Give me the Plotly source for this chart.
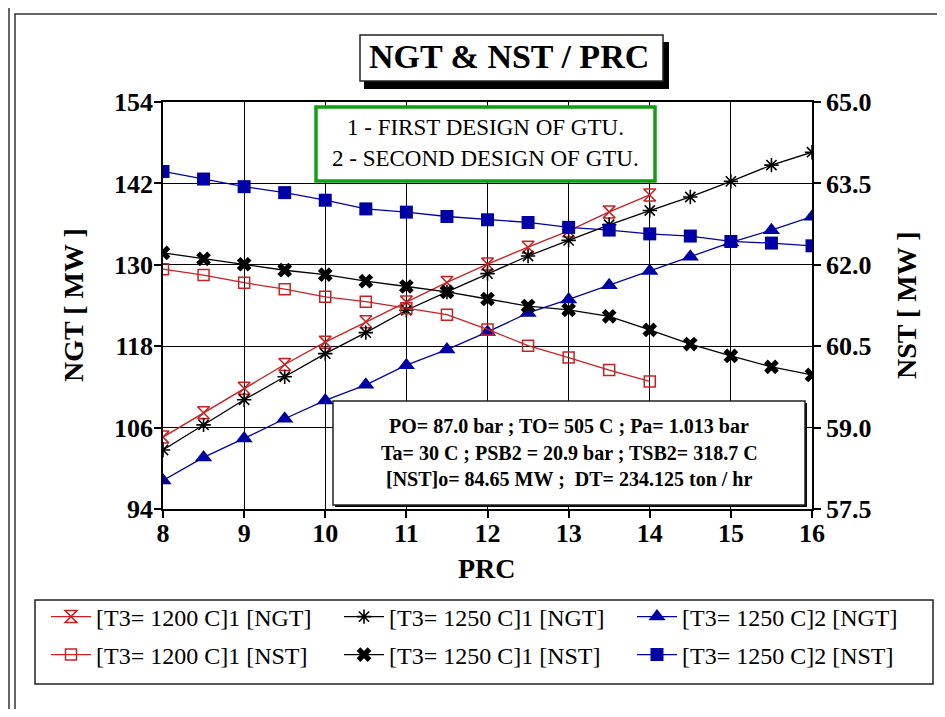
import plotly.graph_objects as go

# ---------------- data ----------------
prc_1200 = [8, 8.5, 9, 9.5, 10, 10.5, 11, 11.5, 12, 12.5, 13, 13.5, 14]
prc_1250 = [8, 8.5, 9, 9.5, 10, 10.5, 11, 11.5, 12, 12.5, 13, 13.5, 14, 14.5, 15, 15.5, 16]

ngt_1200_1 = [104.6, 108.2, 111.8, 115.3, 118.6, 121.6, 124.5, 127.4, 130.1, 132.6, 135.0, 137.8, 140.3]
nst_1200_1 = [61.92, 61.81, 61.67, 61.55, 61.41, 61.32, 61.20, 61.08, 60.81, 60.51, 60.29, 60.06, 59.85]

ngt_1250_1 = [102.7, 106.4, 110.1, 113.5, 116.9, 120.0, 123.3, 126.0, 128.7, 131.3, 133.6, 135.9,
              138.0, 140.0, 142.3, 144.7, 146.6]
nst_1250_1 = [62.22, 62.11, 62.01, 61.90, 61.82, 61.70, 61.60, 61.50, 61.37, 61.24, 61.17, 61.05,
              60.80, 60.54, 60.32, 60.12, 59.97]

ngt_1250_2 = [98.2, 101.6, 104.4, 107.3, 110.0, 112.3, 115.2, 117.5, 120.1, 122.9, 124.9, 127.0,
              129.1, 131.2, 133.3, 135.1, 137.1]
nst_1250_2 = [63.72, 63.58, 63.44, 63.33, 63.19, 63.03, 62.97, 62.89, 62.83, 62.78, 62.69, 62.64,
              62.57, 62.53, 62.43, 62.40, 62.35]

names_ngt = ["[T3= 1200 C]1 [NGT]", "[T3= 1250 C]1 [NGT]", "[T3= 1250 C]2 [NGT]"]
names_nst = ["[T3= 1200 C]1 [NST]", "[T3= 1250 C]1 [NST]", "[T3= 1250 C]2 [NST]"]

title_text = "NGT & NST / PRC"
design_lines = ["1 - FIRST DESIGN OF GTU.", "2 - SECOND DESIGN OF GTU."]
info_lines = ["PO= 87.0 bar ; TO= 505 C ; Pa= 1.013 bar",
              "Ta= 30 C ; PSB2 = 20.9 bar ; TSB2= 318.7 C",
              "[NST]o= 84.65 MW ;  DT= 234.125 ton / hr"]

# ---------------- layout helpers ----------------
OFF = 8                      # page body margin
W, H = 945 - 2 * OFF, 717 - 2 * OFF
L, R, T, B = 163, 812, 102, 509   # plot area in page pixels
FONT = "Liberation Serif"
RED, BLK, BLU = "#cc2020", "#000000", "#0000a8"


def px(x):
    return (x - L) / (R - L)


def py(y):
    return (B - y) / (B - T)


fig = go.Figure()

def add(x, y, name, color, symbol, size, axis, legend, mlw=1.2):
    fig.add_trace(go.Scatter(
        x=x, y=y, name=name, mode="lines+markers", yaxis=axis, legend=legend,
        line=dict(color=color, width=1.3),
        marker=dict(symbol=symbol, size=size, color=color, line=dict(color=color, width=mlw)),
    ))

add(prc_1200, ngt_1200_1, names_ngt[0], RED, "hourglass-open", 12, "y", "legend", 1.5)
add(prc_1250, ngt_1250_1, names_ngt[1], BLK, "asterisk-open", 12, "y", "legend2", 1.6)
add(prc_1250, ngt_1250_2, names_ngt[2], BLU, "triangle-up", 15, "y", "legend3", 0)
add(prc_1200, nst_1200_1, names_nst[0], RED, "square-open", 11, "y2", "legend4", 1.5)
add(prc_1250, nst_1250_1, names_nst[1], BLK, "x", 13, "y2", "legend5", 0)
add(prc_1250, nst_1250_2, names_nst[2], BLU, "square", 13, "y2", "legend6", 0)

tickfont = dict(family=FONT, size=26, color="black", weight="bold")
axis_common = dict(showline=True, linecolor="black", linewidth=1.5, ticks="outside",
                   ticklen=7, tickwidth=1.5, tickcolor="black", tickfont=tickfont,
                   gridcolor="black", gridwidth=1.3, zeroline=False)

shapes = []
# outer double frame
shapes.append(dict(type="rect", xref="paper", yref="paper", x0=px(9), x1=px(980),
                   y0=py(740), y1=py(7), line=dict(color="#333", width=1.5), layer="below"))
shapes.append(dict(type="rect", xref="paper", yref="paper", x0=px(15), x1=px(980),
                   y0=py(714), y1=py(14), line=dict(color="#333", width=1.5), layer="below"))
# legend box
shapes.append(dict(type="rect", xref="paper", yref="paper", x0=px(35), x1=px(933),
                   y0=py(684), y1=py(600), line=dict(color="#222", width=1.5), layer="below"))
# title box with shadow
shapes.append(dict(type="rect", xref="paper", yref="paper", x0=px(364), x1=px(669),
                   y0=py(89), y1=py(42), fillcolor="black", line=dict(width=0), layer="above"))
shapes.append(dict(type="rect", xref="paper", yref="paper", x0=px(360), x1=px(663),
                   y0=py(81), y1=py(35), fillcolor="white", line=dict(color="#222", width=1.5),
                   layer="above"))
# design box (green)
shapes.append(dict(type="rect", xref="paper", yref="paper", x0=px(316), x1=px(655),
                   y0=py(181), y1=py(107), fillcolor="white", line=dict(color="#10a010", width=3.5),
                   layer="above"))
# info box
shapes.append(dict(type="rect", xref="paper", yref="paper", x0=px(335), x1=px(807),
                   y0=py(507), y1=py(403), fillcolor="black", line=dict(width=0), layer="above"))
shapes.append(dict(type="rect", xref="paper", yref="paper", x0=px(333), x1=px(805),
                   y0=py(505), y1=py(401), fillcolor="white", line=dict(color="#222", width=1.5),
                   layer="above"))

ann = []
def text(x, y, s, size, bold=False, angle=0):
    ann.append(dict(xref="paper", yref="paper", x=px(x), y=py(y), text=s, showarrow=False,
                    xanchor="center", yanchor="middle", textangle=angle,
                    font=dict(family=FONT, size=size, color="black",
                              weight="bold" if bold else "normal")))

text(509, 57, title_text, 34, bold=True)
text(485, 128, design_lines[0], 23)
text(485, 158, design_lines[1], 23)
for i, s in enumerate(info_lines):
    text(569, 426 + i * 26.5, s, 20, bold=True)
text(73, 305, "NGT [ MW ]", 28, bold=True, angle=-90)
text(906, 305, "NST [ MW ]", 28, bold=True, angle=-90)
text(487, 568, "PRC", 28, bold=True)

legfont = dict(family=FONT, size=24, color="black")
legend_pos = {"legend": (46, 617), "legend2": (339, 617), "legend3": (632, 617),
              "legend4": (46, 655), "legend5": (339, 655), "legend6": (632, 655)}
legends = {}
for key, (lx, ly) in legend_pos.items():
    legends[key] = dict(orientation="h", x=px(lx), y=py(ly), xanchor="left", yanchor="middle",
                        font=legfont, bgcolor="rgba(0,0,0,0)", borderwidth=0, itemwidth=40)

fig.update_layout(
    width=W, height=H,
    margin=dict(l=L - OFF, r=W - (R - OFF), t=T - OFF, b=H - (B - OFF), autoexpand=False),
    paper_bgcolor="white", plot_bgcolor="white",
    xaxis=dict(range=[8, 16], dtick=1, tick0=8, mirror=True, ticklabelstandoff=-7,
               **axis_common),
    yaxis=dict(range=[94, 154], dtick=12, tick0=94, ticklabelstandoff=-4, **axis_common),
    yaxis2=dict(range=[57.5, 65], dtick=1.5, tick0=57.5, tickformat=".1f", overlaying="y",
                side="right", showgrid=False, **{k: v for k, v in axis_common.items()
                                                   if k not in ("gridcolor", "gridwidth")}),
    shapes=shapes, annotations=ann, showlegend=True,
    **legends,
)

fig.write_html("out.html")
